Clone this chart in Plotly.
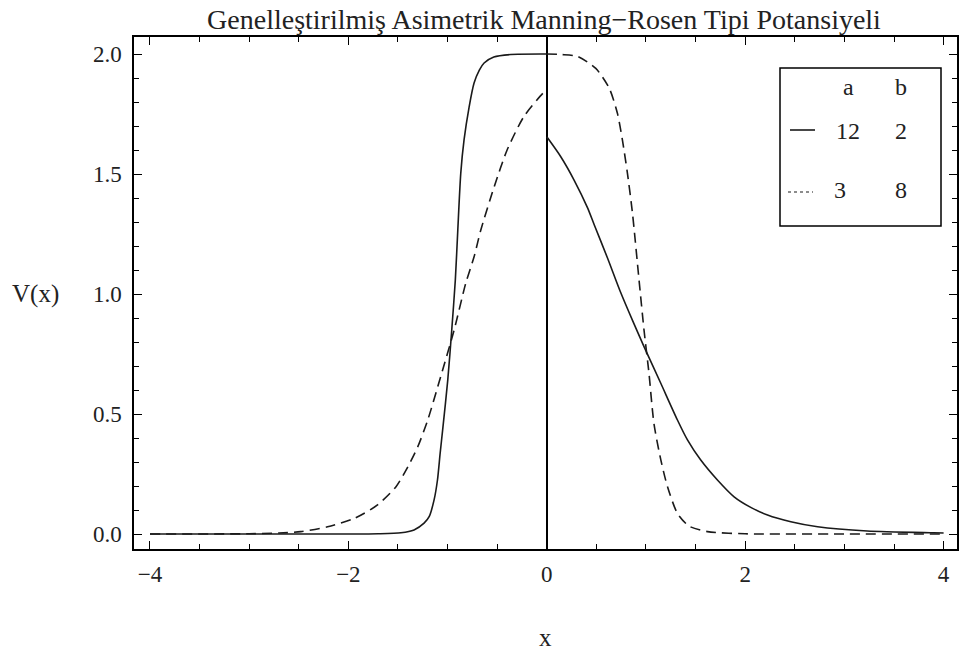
import plotly.graph_objects as go

# ---- data ----
x_solid = [-4.0, -3.0, -2.0, -1.7, -1.47, -1.338, -1.237, -1.186, -1.136, -1.102, -1.075, -1.05,
           -0.998, -0.958, -0.922, -0.897, -0.867, -0.834, -0.783, -0.733, -0.68, -0.632,
           -0.534, -0.363, 0.0,
           0.0, 0.141, 0.275, 0.41, 0.477, 0.612, 0.746, 0.864, 0.981, 1.149, 1.317, 1.418,
           1.552, 1.72, 1.888, 2.056, 2.225, 2.46, 2.73, 3.23, 3.9, 4.0]
y_solid = [0.0, 0.0, 0.0, 0.001, 0.005, 0.017, 0.045, 0.072, 0.142, 0.225, 0.336, 0.433,
           0.642, 0.85, 1.058, 1.267, 1.504, 1.642, 1.779, 1.879, 1.933, 1.9625,
           1.9875, 1.998, 2.0,
           1.655, 1.572, 1.475, 1.36, 1.29, 1.15, 1.005, 0.89, 0.78, 0.628, 0.475, 0.392,
           0.308, 0.225, 0.155, 0.111, 0.079, 0.051, 0.03, 0.0125, 0.005, 0.004]

x_dash = [-4.0, -3.0, -2.7, -2.48, -2.21, -1.94, -1.71, -1.52, -1.40, -1.30, -1.20, -1.07, -0.934,
          -0.817, -0.733, -0.665, -0.53, -0.40, -0.23, -0.04, 0.0,
          0.0, 0.15, 0.31, 0.494, 0.63, 0.712, 0.763, 0.813, 0.864, 0.93, 0.98, 1.03, 1.08,
          1.15, 1.217, 1.317, 1.434, 1.62, 2.0, 3.0, 4.0]
y_dash = [0.0, 0.001, 0.004, 0.01, 0.03, 0.065, 0.12, 0.197, 0.28, 0.364, 0.475, 0.655, 0.85,
          1.045, 1.155, 1.267, 1.447, 1.6, 1.74, 1.836, 1.85,
          2.0, 1.998, 1.99, 1.94, 1.857, 1.753, 1.64, 1.503, 1.336, 1.058, 0.85, 0.67, 0.461,
          0.308, 0.197, 0.086, 0.033, 0.01, 0.001, 0.0, 0.0]

legend_header = ["a", "b"]
legend_rows = [["12", "2"], ["3", "8"]]
title_text = "Genelleştirilmiş Asimetrik Manning−Rosen Tipi Potansiyeli"
y_label = "V(x)"
x_label = "x"

# ---- layout geometry (pixels) ----
W, H = 959, 653
L, R, T, B = 134, 957, 37, 549


def px(xp):
    return (xp - L) / (R - L)


def py(yp):
    return (B - yp) / (B - T)


def split_at_jump(xs, ys):
    """Split a series where x repeats (the jump at x=0) into two pieces."""
    for i in range(1, len(xs)):
        if xs[i] == xs[i - 1]:
            return [(xs[:i], ys[:i]), (xs[i:], ys[i:])]
    return [(xs, ys)]


FONT = "Liberation Serif, Times New Roman, DejaVu Serif, serif"
INK = "#1a1a1a"

fig = go.Figure()
for xs, ys in split_at_jump(x_solid, y_solid):
    fig.add_trace(go.Scatter(x=xs, y=ys, mode="lines",
                             line=dict(color=INK, width=1.6, shape="spline", smoothing=0.7),
                             showlegend=False, hoverinfo="skip"))
for xs, ys in split_at_jump(x_dash, y_dash):
    fig.add_trace(go.Scatter(x=xs, y=ys, mode="lines",
                             line=dict(color=INK, width=1.6, dash="10px,6px", shape="spline",
                                       smoothing=0.7),
                             showlegend=False, hoverinfo="skip"))

axis_common = dict(showline=True, linecolor="black", linewidth=1.5, mirror="allticks",
                   ticks="inside", ticklen=8, tickwidth=1.3, tickcolor="black",
                   showgrid=False, automargin=False,
                   tickfont=dict(family=FONT, size=23, color="#222"))

fig.update_xaxes(range=[-4.161, 4.135], tick0=-4, dtick=2, zeroline=True,
                 zerolinecolor="black", zerolinewidth=1.5,
                 minor=dict(dtick=0.5, ticks="inside", ticklen=5, tickcolor="black", tickwidth=1.1),
                 ticklabelstandoff=4, **axis_common)
fig.update_yaxes(range=[-0.0625, 2.071], tick0=0, dtick=0.5, tickformat=".1f", zeroline=False,
                 minor=dict(dtick=0.1, ticks="inside", ticklen=5, tickcolor="black", tickwidth=1.1),
                 ticklabelstandoff=6, **axis_common)

annotations = [
    dict(text=y_label, x=px(35.5), y=py(294), xref="paper", yref="paper", showarrow=False,
         xanchor="center", yanchor="middle", font=dict(family=FONT, size=25, color="#222")),
    dict(text=x_label, x=px(545), y=py(637), xref="paper", yref="paper", showarrow=False,
         xanchor="center", yanchor="middle", font=dict(family=FONT, size=25, color="#222")),
]

# legend table
cols_x = [848, 901]
for j, h in enumerate(legend_header):
    annotations.append(dict(text=h, x=px(cols_x[j]), y=py(87), xref="paper", yref="paper",
                            showarrow=False, xanchor="center", yanchor="middle",
                            font=dict(family=FONT, size=24, color="#222")))
row_y = [131, 190]
row_x = [[848, 901], [840, 901]]
for i, row in enumerate(legend_rows):
    for j, v in enumerate(row):
        annotations.append(dict(text=v, x=px(row_x[i][j]), y=py(row_y[i]), xref="paper",
                                yref="paper", showarrow=False, xanchor="center", yanchor="middle",
                                font=dict(family=FONT, size=24, color="#222")))

shapes = [
    dict(type="rect", xref="paper", yref="paper", x0=px(780), x1=px(941), y0=py(226), y1=py(68),
         line=dict(color="black", width=1.5), fillcolor="white", layer="above"),
    dict(type="line", xref="paper", yref="paper", x0=px(790), x1=px(815), y0=py(130), y1=py(130),
         line=dict(color=INK, width=1.6)),
    dict(type="line", xref="paper", yref="paper", x0=px(788), x1=px(813), y0=py(192), y1=py(192),
         line=dict(color=INK, width=1.2, dash="dot")),
]

fig.update_layout(
    width=W, height=H,
    margin=dict(l=L, r=W - R, t=T, b=H - B, autoexpand=False),
    paper_bgcolor="white", plot_bgcolor="white",
    title=dict(text=title_text, x=px(544), xref="paper", y=1 - 19 / H, yref="container",
               xanchor="center", yanchor="middle",
               font=dict(family=FONT, size=28, color="#222")),
    annotations=annotations, shapes=shapes,
)

fig.write_html(
    "out.html",
    config={"displayModeBar": False},
    post_script="document.body.style.margin='0';document.body.style.overflow='hidden';",
)
